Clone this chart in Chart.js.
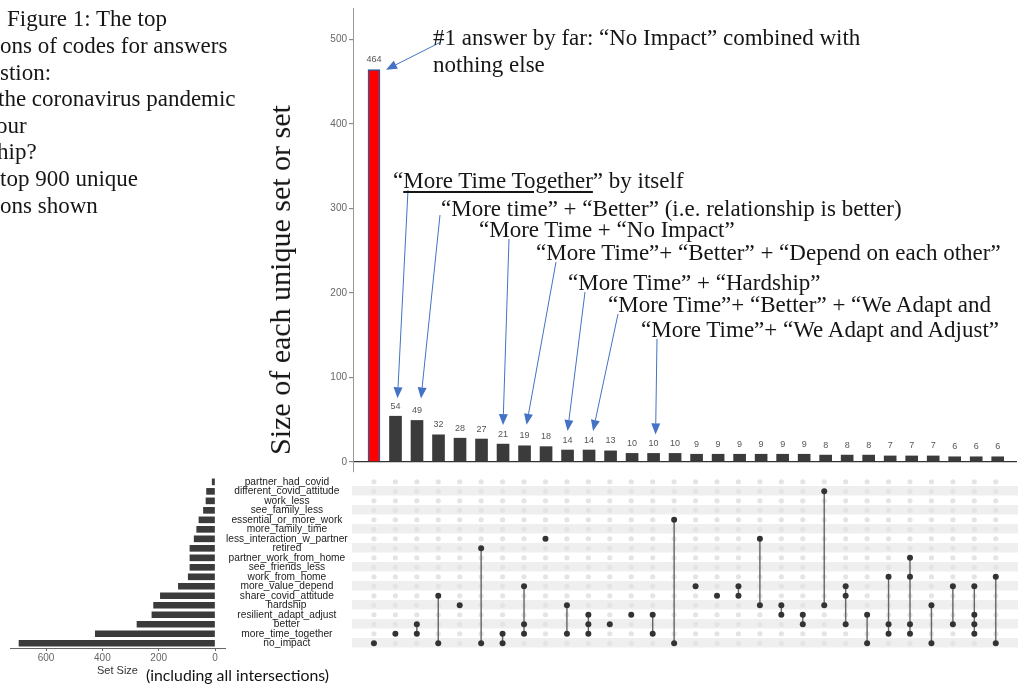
<!DOCTYPE html>
<html><head><meta charset="utf-8">
<script src="https://cdn.jsdelivr.net/npm/chart.js@4.4.1/dist/chart.umd.min.js"></script>
<style>
html,body{margin:0;padding:0;background:#fff;width:1022px;height:688px;overflow:hidden;position:relative;}
canvas{position:absolute;}
.t{position:absolute;font-family:"Liberation Serif","Times New Roman",serif;font-size:23px;color:#161616;white-space:nowrap;line-height:1;}
.u{text-decoration:underline;text-decoration-thickness:1.6px;text-underline-offset:3px;}
</style></head><body>
<canvas id="topChart" width="1022" height="480" style="left:0;top:0;width:1022px;height:480px"></canvas>
<canvas id="matrixChart" width="682" height="185" style="left:340px;top:470px;width:682px;height:185px"></canvas>
<canvas id="setChart" width="352" height="218" style="left:0;top:470px;width:352px;height:218px"></canvas>
<div id="notes"></div>
<script>
// ---------------- data ----------------
const setNames = ['partner_had_covid','different_covid_attitude','work_less','see_family_less','essential_or_more_work','more_family_time','less_interaction_w_partner','retired','partner_work_from_home','see_friends_less','work_from_home','more_value_depend','share_covid_attitude','hardship','resilient_adapt_adjust','better','more_time_together','no_impact'];
const setSizes = [10,30,32,41,57,65,74,89,89,89,95,130,194,218,224,277,425,696];
const intersectionSizes = [464,54,49,32,28,27,21,19,18,14,14,13,10,10,10,9,9,9,9,9,9,8,8,8,7,7,7,6,6,6];
const intersectionMembers = [
 ['no_impact'],
 ['more_time_together'],
 ['better','more_time_together'],
 ['share_covid_attitude','no_impact'],
 ['hardship'],
 ['retired','no_impact'],
 ['more_time_together','no_impact'],
 ['more_value_depend','better','more_time_together'],
 ['less_interaction_w_partner'],
 ['hardship','more_time_together'],
 ['resilient_adapt_adjust','better','more_time_together'],
 ['better'],
 ['resilient_adapt_adjust'],
 ['resilient_adapt_adjust','more_time_together'],
 ['essential_or_more_work','no_impact'],
 ['more_value_depend'],
 ['share_covid_attitude'],
 ['more_value_depend','share_covid_attitude'],
 ['less_interaction_w_partner','hardship'],
 ['hardship','resilient_adapt_adjust'],
 ['resilient_adapt_adjust','better'],
 ['different_covid_attitude','hardship'],
 ['more_value_depend','share_covid_attitude','better'],
 ['resilient_adapt_adjust','no_impact'],
 ['work_from_home','better','more_time_together'],
 ['partner_work_from_home','work_from_home','better','more_time_together'],
 ['hardship','no_impact'],
 ['more_value_depend','better'],
 ['more_value_depend','resilient_adapt_adjust','better','more_time_together'],
 ['work_from_home','no_impact']
];
const barTicks = [0,100,200,300,400,500];
const setSizeTicks = [0,200,400,600];
const highlightIndex = 0;

// annotation texts (left, visual centre y) and arrows (start point, target bar)
const figureLines = [
 ['Figure 1: The top',7,18],['ons of codes for answers',0,45],['stion:',0,72],['the coronavirus pandemic',-2,98],
 ['our',-4,125],['hip?',-3,151],['top 900 unique',0,178],['ons shown',0,205]
];
const notes = [
 ['#1 answer by far: “No Impact” combined with',433,37],
 ['nothing else',433,64],
 ['“<span class="u">More Time Together</span>” by itself',393,180],
 ['“More time” + “Better” (i.e. relationship is better)',441,208],
 ['“More Time + “No Impact”',479,229],
 ['“More Time”+ “Better” + “Depend on each other”',536,252],
 ['“More Time” + “Hardship”',568,282],
 ['“More Time”+ “Better” + “We Adapt and',608,304],
 ['“More Time”+ “We Adapt and Adjust”',641,329]
];
const arrows = [
 {from:[441,42], bar:0, dx:12, dy:0},
 {from:[408,190], bar:1, dx:2, dy:18},
 {from:[440,215], bar:2, dx:4, dy:22},
 {from:[509,239], bar:6, dx:0, dy:19},
 {from:[556,262], bar:7, dx:2, dy:21},
 {from:[585,292], bar:9, dx:0, dy:19},
 {from:[618,314], bar:10, dx:4, dy:19},
 {from:[657,339], bar:13, dx:2, dy:19}
];

// ---------------- html text ----------------
const holder = document.getElementById('notes');
function addText(html,x,cy,fs){
  const d=document.createElement('div'); d.className='t'; d.innerHTML=html;
  d.style.left=x+'px'; d.style.top=(cy-0.49*fs)+'px'; d.style.fontSize=fs+'px';
  holder.appendChild(d); return d;
}
figureLines.forEach(l=>addText(l[0],l[1],l[2],23));
notes.forEach(l=>addText(l[0],l[1],l[2],23));
const yt=document.createElement('div'); yt.className='t'; yt.textContent='Size of each unique set or set';
yt.style.cssText+='font-size:30px;left:280px;top:280px;transform:translate(-50%,-50%) rotate(-90deg);';
holder.appendChild(yt);
const inc=document.createElement('div'); inc.textContent='(including all intersections)';
inc.style.cssText='position:absolute;left:146px;top:667px;font-family:Lato,"Noto Sans",sans-serif;font-size:15.8px;color:#111;white-space:nowrap;line-height:1;';
holder.appendChild(inc);

// ---------------- plugins ----------------
const barLabels = {id:'barLabels', afterDatasetsDraw(chart){
  const ctx=chart.ctx, meta=chart.getDatasetMeta(0);
  ctx.save(); ctx.font='9px "Liberation Sans", Arial, sans-serif'; ctx.fillStyle='#555';
  ctx.textAlign='center'; ctx.textBaseline='middle';
  meta.data.forEach((b,i)=>ctx.fillText(String(intersectionSizes[i]), b.x, b.y-10));
  ctx.restore();
}};
const arrowPlugin = {id:'arrows', afterDraw(chart){
  const ctx=chart.ctx, meta=chart.getDatasetMeta(0);
  ctx.save(); ctx.strokeStyle='#4472c4'; ctx.fillStyle='#4472c4'; ctx.lineWidth=1;
  arrows.forEach(a=>{
    const b=meta.data[a.bar];
    const tx=b.x+a.dx, ty=b.y-a.dy;
    const [sx,sy]=a.from;
    const ang=Math.atan2(ty-sy,tx-sx), L=11, W=4.5;
    const bx=tx-L*Math.cos(ang), by=ty-L*Math.sin(ang);
    ctx.beginPath(); ctx.moveTo(sx,sy); ctx.lineTo(bx,by); ctx.stroke();
    ctx.beginPath(); ctx.moveTo(tx,ty);
    ctx.lineTo(bx+W*Math.sin(ang), by-W*Math.cos(ang));
    ctx.lineTo(bx-W*Math.sin(ang), by+W*Math.cos(ang));
    ctx.closePath(); ctx.fill();
  });
  ctx.restore();
}};

const sans='"Liberation Sans", Arial, sans-serif';

// ---------------- top intersection bars ----------------
new Chart(document.getElementById('topChart'),{
  type:'bar',
  data:{datasets:[{
    data: intersectionSizes.map((v,i)=>({x:i,y:v})),
    backgroundColor: intersectionSizes.map((v,i)=>i===highlightIndex?'#ff0000':'#3b3b3b'),
    borderColor: intersectionSizes.map((v,i)=>i===highlightIndex?'#2f5597':'rgba(0,0,0,0)'),
    borderWidth: intersectionSizes.map((v,i)=>i===highlightIndex?1.5:0),
    barThickness:12
  }]},
  options:{
    responsive:false, animation:false, devicePixelRatio:1,
    layout:{padding:{left:0,right:5,top:8,bottom:5}},
    plugins:{legend:{display:false},tooltip:{enabled:false}},
    scales:{
      x:{type:'linear',offset:false,min:-0.976,max:29.897,display:false,grid:{offset:false}},
      y:{min:-12,max:537,
        afterFit:s=>{s.width=353;},
        afterBuildTicks:s=>{s.ticks=barTicks.map(v=>({value:v}));},
        border:{color:'#9a9a9a',width:1},
        grid:{color:c=>(c.tick&&c.tick.value===0)?'#333':'rgba(0,0,0,0)',tickColor:'#8a8a8a',tickLength:4,lineWidth:1.2},
        ticks:{color:'#666',font:{family:sans,size:10},padding:2}
      }
    }
  },
  plugins:[barLabels,arrowPlugin]
});

// ---------------- matrix ----------------
const rowOf = n=>setNames.indexOf(n);
const allDots=[], activeDots=[], linkPts=[];
intersectionMembers.forEach((m,i)=>{
  setNames.forEach((n,r)=>{ if(!m.includes(n)) allDots.push({x:i,y:r}); });
  const rows=m.map(rowOf);
  rows.forEach(r=>activeDots.push({x:i,y:r}));
  if(rows.length>1){
    linkPts.push({x:i,y:Math.min(...rows)},{x:i,y:Math.max(...rows)},{x:i,y:null});
  }
});
new Chart(document.getElementById('matrixChart'),{
  type:'scatter',
  data:{datasets:[
    {data:activeDots,backgroundColor:'#333',borderWidth:0,pointRadius:3},
    {data:linkPts,showLine:true,spanGaps:false,borderColor:'#666',borderWidth:1.4,pointRadius:0},
    {data:allDots,backgroundColor:'#e4e4e4',borderWidth:0,pointRadius:2.6}
  ]},
  options:{
    responsive:false, animation:false, devicePixelRatio:1,
    layout:{padding:{left:12,right:2,top:7,bottom:7}},
    plugins:{legend:{display:false},tooltip:{enabled:false}},
    scales:{
      x:{type:'linear',min:-1.023,max:30.037,display:false},
      y:{type:'linear',min:-0.5,max:17.5,reverse:true,
        afterFit:s=>{s.width=0;},
        afterBuildTicks:s=>{s.ticks=setNames.map((n,i)=>({value:i}));},
        ticks:{display:false},border:{display:false},
        grid:{drawTicks:false,lineWidth:9.6,color:c=>(c.tick&&c.tick.value%2===1)?'#efefef':'rgba(0,0,0,0)'}
      }
    }
  }
});

// ---------------- set size bars ----------------
new Chart(document.getElementById('setChart'),{
  type:'bar',
  data:{labels:setNames,datasets:[{data:setSizes,backgroundColor:'#3b3b3b',barThickness:6}]},
  options:{
    indexAxis:'y',
    responsive:false, animation:false, devicePixelRatio:1,
    layout:{padding:{left:10,right:0,top:7,bottom:0}},
    plugins:{legend:{display:false},tooltip:{enabled:false}},
    scales:{
      y:{position:'right',offset:true,
        afterFit:s=>{s.width=127;},
        grid:{display:false,drawTicks:false},border:{display:false},
        ticks:{crossAlign:'center',color:'#222',font:{family:sans,size:10.2},padding:1,autoSkip:false}
      },
      x:{type:'linear',reverse:true,min:-35.5,max:728,position:'bottom',
        afterFit:s=>{s.height=40;},
        afterBuildTicks:s=>{s.ticks=setSizeTicks.map(v=>({value:v}));},
        grid:{drawOnChartArea:false,tickLength:3,tickColor:'#666'},
        border:{color:'#666',width:1},
        ticks:{color:'#666',font:{family:sans,size:10},padding:1},
        title:{display:true,text:'Set Size',color:'#333',font:{family:sans,size:11},padding:{top:0,bottom:10}}
      }
    }
  }
});
</script>
</body></html>
